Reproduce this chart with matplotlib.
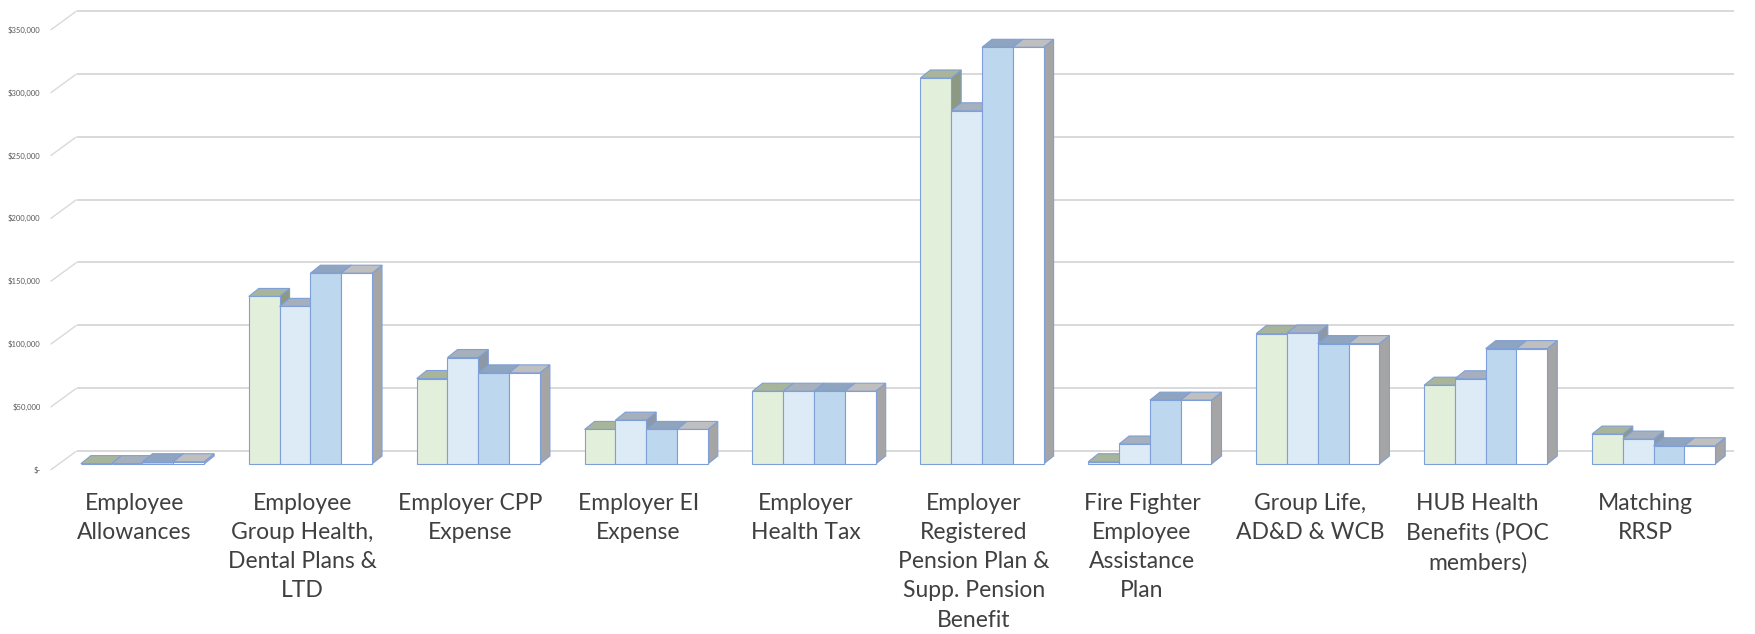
import numpy as np
import matplotlib.pyplot as plt
from matplotlib.patches import Polygon

# ---- data ----
categories = ["Employee\nAllowances",
              "Employee\nGroup Health,\nDental Plans &\nLTD",
              "Employer CPP\nExpense",
              "Employer EI\nExpense",
              "Employer\nHealth Tax",
              "Employer\nRegistered\nPension Plan &\nSupp. Pension\nBenefit",
              "Fire Fighter\nEmployee\nAssistance\nPlan",
              "Group Life,\nAD&D & WCB",
              "HUB Health\nBenefits (POC\nmembers)",
              "Matching\nRRSP"]
series_1 = [300, 133300, 68000, 27500, 57900, 307100, 1800, 103700, 62700, 23800]
series_2 = [300, 125400, 84700, 34900, 57900, 281000, 15900, 104200, 67800, 19800]
series_3 = [1800, 151800, 72500, 27500, 57900, 331500, 50800, 95800, 91800, 14500]
series_4 = [1800, 151800, 72500, 27500, 57900, 331500, 50800, 95800, 91800, 14500]
y_ticks = [0, 50000, 100000, 150000, 200000, 250000, 300000, 350000]

series = [series_1, series_2, series_3, series_4]
front_colors = ['#E2EFDA', '#DDEBF7', '#BDD7EE', '#FFFFFF']
top_colors = ['#A9B59B', '#A5B0BC', '#8EA4BF', '#BFBFBF']
side_colors = ['#8D9982', '#8C98A6', '#7A8FA8', '#A5A5A5']
edge_color = '#7F9FD8'
grid_color = '#D9D9D9'

# ---- figure / fake 3D geometry (pixel based) ----
W, H = 1756, 634
fig = plt.figure(figsize=(W / 100, H / 100), dpi=100)
ax_right = 1734
ax = fig.add_axes([0, 0, ax_right / W, 1])

cat_px = 167.9      # pixels per category
val_px = 1.257e-3   # pixels per dollar
x0_px = 134.5       # front-plane centre of the first category
y0_px = 470         # front-plane zero line (from top)

ax.set_xlim(-x0_px / cat_px, (ax_right - x0_px) / cat_px)
ax.set_ylim(-(H - y0_px) / val_px, y0_px / val_px)
ax.axis('off')


def dx(px):
    return px / cat_px


def dy(px):
    return px / val_px


floor_dx, floor_dy = dx(26), dy(19)     # depth of the whole floor
bar_off_x, bar_off_y = dx(8), dy(6)     # bars sit a bit behind the front plane
depth_x, depth_y = dx(10), dy(8)        # depth of one bar
bar_w = dx(30.8)
x_left_edge = -0.5
x_right_end = ax.get_xlim()[1]

# gridlines on the back wall + diagonal on the side
for v in y_ticks:
    ax.plot([x_left_edge, x_left_edge + floor_dx], [v, v + floor_dy],
            color=grid_color, lw=1.0, solid_capstyle='butt', zorder=1)
    ax.plot([x_left_edge + floor_dx, x_right_end], [v + floor_dy, v + floor_dy],
            color=grid_color, lw=1.4, solid_capstyle='butt', zorder=1)
    label = '$-' if v == 0 else f'${v:,.0f}'
    ax.text(x_left_edge - dx(10), v, label, ha='right', va='center',
            fontsize=5.5, color='#595959', family='Lato')

# bars: left to right so nearer faces overlap farther ones
for i in range(len(categories)):
    for j, vals in enumerate(series):
        v = vals[i]
        xl = i - 2 * bar_w + j * bar_w + bar_off_x
        xr = xl + bar_w
        yb = bar_off_y
        yt = yb + v
        side = Polygon([(xr, yb), (xr + depth_x, yb + depth_y),
                        (xr + depth_x, yt + depth_y), (xr, yt)],
                       closed=True, fc=side_colors[j], ec=edge_color, lw=0.8, zorder=2)
        top = Polygon([(xl, yt), (xl + depth_x, yt + depth_y),
                       (xr + depth_x, yt + depth_y), (xr, yt)],
                      closed=True, fc=top_colors[j], ec=edge_color, lw=0.8, zorder=2)
        ax.add_patch(side)
        ax.add_patch(top)
        ax.bar(xl, v, width=bar_w, bottom=yb, align='edge',
               color=front_colors[j], edgecolor=edge_color, linewidth=0.8, zorder=2)

# category labels under the front plane
for i, name in enumerate(categories):
    ax.text(i, -dy(23), name, ha='center', va='top', fontsize=16.5,
            color='#404040', family='Lato', linespacing=1.48)

fig.savefig('out.png', dpi=100)
